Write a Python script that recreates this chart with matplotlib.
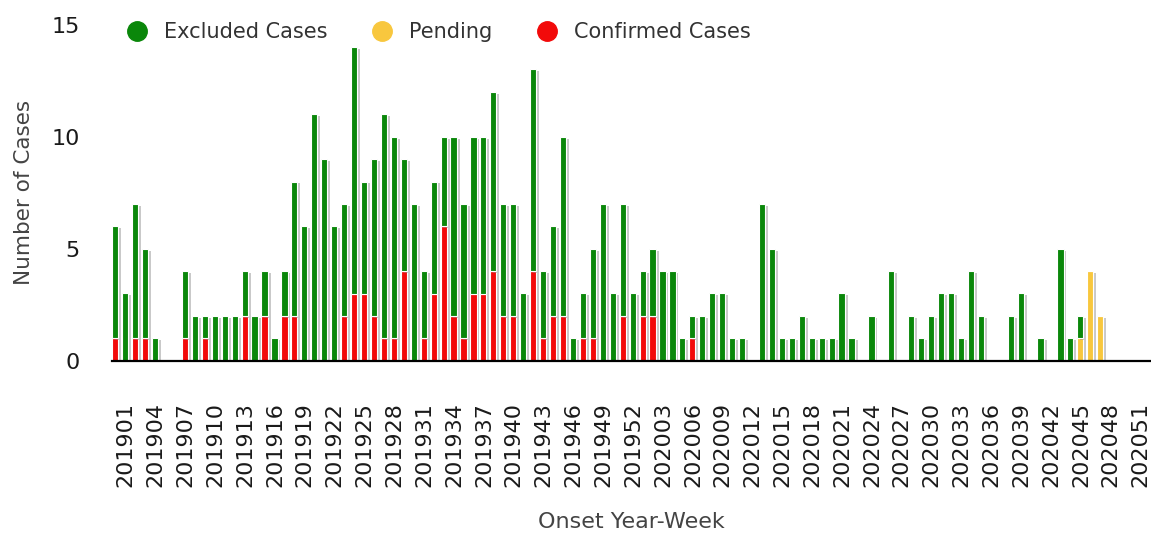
import matplotlib
matplotlib.use("Agg")
import matplotlib.pyplot as plt
import matplotlib.patheffects as pe
from matplotlib.lines import Line2D
from matplotlib.transforms import ScaledTranslation
import numpy as np

# onset year-week categories (2019 has 52 ISO weeks, 2020 has 53)
weeks = [f"2019{w:02d}" for w in range(1, 53)] + [f"2020{w:02d}" for w in range(1, 54)]

confirmed = [1, 0, 1, 1, 0, 0, 0, 1, 0, 1,
             0, 0, 0, 2, 0, 2, 0, 2, 2, 0,
             0, 0, 0, 2, 3, 3, 2, 1, 1, 4,
             0, 1, 3, 6, 2, 1, 3, 3, 4, 2,
             2, 0, 4, 1, 2, 2, 0, 1, 1, 0,
             0, 2, 0, 2, 2, 0, 0, 0, 1, 0,
             0, 0, 0, 0, 0, 0, 0, 0, 0, 0,
             0, 0, 0, 0, 0, 0, 0, 0, 0, 0,
             0, 0, 0, 0, 0, 0, 0, 0, 0, 0,
             0, 0, 0, 0, 0, 0, 0, 0, 0, 0,
             0, 0, 0, 0, 0]
pending = [0, 0, 0, 0, 0, 0, 0, 0, 0, 0,
           0, 0, 0, 0, 0, 0, 0, 0, 0, 0,
           0, 0, 0, 0, 0, 0, 0, 0, 0, 0,
           0, 0, 0, 0, 0, 0, 0, 0, 0, 0,
           0, 0, 0, 0, 0, 0, 0, 0, 0, 0,
           0, 0, 0, 0, 0, 0, 0, 0, 0, 0,
           0, 0, 0, 0, 0, 0, 0, 0, 0, 0,
           0, 0, 0, 0, 0, 0, 0, 0, 0, 0,
           0, 0, 0, 0, 0, 0, 0, 0, 0, 0,
           0, 0, 0, 0, 0, 0, 0, 1, 4, 2,
           0, 0, 0, 0, 0]
excluded = [5, 3, 6, 4, 1, 0, 0, 3, 2, 1,
            2, 2, 2, 2, 2, 2, 1, 2, 6, 6,
            11, 9, 6, 5, 11, 5, 7, 10, 9, 5,
            7, 3, 5, 4, 8, 6, 7, 7, 8, 5,
            5, 3, 9, 3, 4, 8, 1, 2, 4, 7,
            3, 5, 3, 2, 3, 4, 4, 1, 1, 2,
            3, 3, 1, 1, 0, 7, 5, 1, 1, 2,
            1, 1, 1, 3, 1, 0, 2, 0, 4, 0,
            2, 1, 2, 3, 3, 1, 4, 2, 0, 0,
            2, 3, 0, 1, 0, 5, 1, 1, 0, 0,
            0, 0, 0, 0, 0]

GREEN, YELLOW, RED = "#0a870a", "#f8c73e", "#f20a0a"

conf = np.array(confirmed)
pend = np.array(pending)
excl = np.array(excluded)
x = np.arange(len(weeks))

fig = plt.figure(figsize=(11.51, 5.33), dpi=100)
ax = fig.add_axes([112 / 1151, 1 - 360.7 / 533, 1 - 112 / 1151, (360.7 - 24.7) / 533])

shadow = [pe.SimplePatchShadow(offset=(2.1, -1.3), shadow_rgbFace="#808080", alpha=0.42), pe.Normal()]
kw = dict(width=0.62, edgecolor="white", linewidth=0.8, path_effects=shadow)
ax.bar(x, conf, color=RED, **kw)
ax.bar(x, pend, bottom=conf, color=YELLOW, **kw)
ax.bar(x, excl, bottom=conf + pend, color=GREEN, **kw)

ax.set_xlim(-0.33, 104.1)
ax.set_ylim(0, 15)
ax.set_yticks([0, 5, 10, 15])
ax.set_xticks(x[::3])
ax.set_xticklabels([weeks[i] for i in x[::3]], rotation=90)
ax.tick_params(axis="both", length=0, labelsize=16, colors="#1a1a1a")
ax.tick_params(axis="x", pad=30)
ax.tick_params(axis="y", pad=23)
shift = ScaledTranslation(0.105, 0, fig.dpi_scale_trans)
for lab in ax.get_xticklabels():
    lab.set_transform(lab.get_transform() + shift)

for s in ("top", "right", "left"):
    ax.spines[s].set_visible(False)
ax.spines["bottom"].set_linewidth(1.6)
ax.spines["bottom"].set_color("black")

ax.set_xlabel("Onset Year-Week", fontsize=16, color="#444444", labelpad=18)
ax.set_ylabel("Number of Cases", fontsize=15.5, color="#444444", labelpad=13)

handles = [Line2D([], [], marker="o", linestyle="none", markersize=14, color=c)
           for c in (GREEN, YELLOW, RED)]
fig.legend(handles, ["Excluded Cases", "Pending", "Confirmed Cases"],
           loc="center left", bbox_to_anchor=(127 / 1151, 1 - 32 / 533), ncol=3,
           frameon=False, fontsize=15, handlelength=1.0, handletextpad=0.8,
           columnspacing=2.1, borderpad=0, borderaxespad=0, labelcolor="#333333")

fig.savefig("out.png", dpi=100)
